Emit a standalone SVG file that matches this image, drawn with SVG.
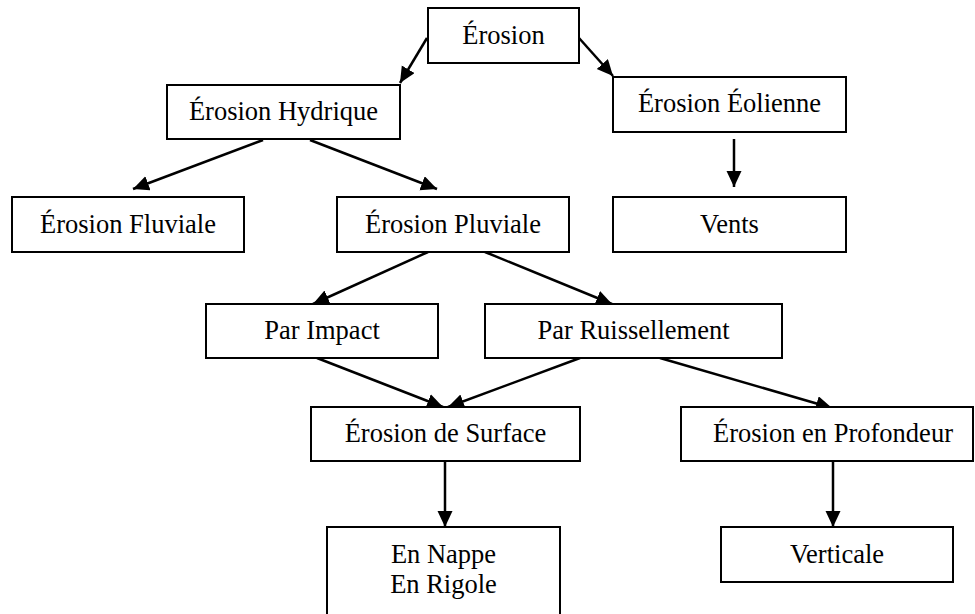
<svg xmlns="http://www.w3.org/2000/svg" width="975" height="614" viewBox="0 0 975 614">
<style>
.box{fill:#fff;stroke:#000;stroke-width:2}
.lbl{font-family:"Liberation Serif","Times New Roman",serif;font-size:26.5px;fill:#000;text-anchor:middle}
.edge{stroke:#000;stroke-width:2.5;fill:none;marker-end:url(#ah)}
</style>
<defs>
<marker id="ah" markerUnits="userSpaceOnUse" markerWidth="18" markerHeight="16" refX="16" refY="7.5" orient="auto">
<path d="M0,0 L16,7.5 L0,15 z" fill="#000"/>
</marker>
</defs>
<rect width="975" height="614" fill="#fff"/>
<g id="connectors">
<line class="edge" x1="427" y1="38" x2="400" y2="83"/>
<line class="edge" x1="579" y1="38" x2="613" y2="76"/>
<line class="edge" x1="263" y1="140" x2="133" y2="189"/>
<line class="edge" x1="310" y1="140" x2="437" y2="189"/>
<line class="edge" x1="734" y1="139" x2="734" y2="187"/>
<line class="edge" x1="428" y1="252" x2="313" y2="304"/>
<line class="edge" x1="485" y1="252" x2="612" y2="304"/>
<line class="edge" x1="317" y1="358" x2="443" y2="407"/>
<line class="edge" x1="580" y1="358" x2="448" y2="407"/>
<line class="edge" x1="660" y1="358" x2="832" y2="408"/>
<line class="edge" x1="445" y1="461" x2="445" y2="527"/>
<line class="edge" x1="833" y1="461" x2="833" y2="527"/>
</g>
<g id="erosion"><rect class="box" x="428" y="8" width="151" height="55"/><text class="lbl" x="503.5" y="44">Érosion</text></g>
<g id="hydrique"><rect class="box" x="167" y="85" width="233" height="54"/><text class="lbl" x="283.5" y="120">Érosion Hydrique</text></g>
<g id="eolienne"><rect class="box" x="613" y="77" width="233" height="55"/><text class="lbl" x="729.5" y="112">Érosion Éolienne</text></g>
<g id="fluviale"><rect class="box" x="12" y="197" width="232" height="55"/><text class="lbl" x="128" y="233">Érosion Fluviale</text></g>
<g id="pluviale"><rect class="box" x="337" y="197" width="232" height="55"/><text class="lbl" x="453" y="233">Érosion Pluviale</text></g>
<g id="vents"><rect class="box" x="613" y="197" width="233" height="55"/><text class="lbl" x="729.5" y="233">Vents</text></g>
<g id="impact"><rect class="box" x="206" y="304" width="232" height="54"/><text class="lbl" x="322" y="339">Par Impact</text></g>
<g id="ruissellement"><rect class="box" x="485" y="304" width="297" height="54"/><text class="lbl" x="633.5" y="339">Par Ruissellement</text></g>
<g id="surface"><rect class="box" x="311" y="407" width="269" height="54"/><text class="lbl" x="445.5" y="442">Érosion de Surface</text></g>
<g id="profondeur"><rect class="box" x="681" y="407" width="292" height="54"/><text class="lbl" x="833" y="442">Érosion en Profondeur</text></g>
<g id="nappe"><rect class="box" x="327" y="527" width="233" height="100"/><text class="lbl" x="443.5" y="563">En Nappe</text><text class="lbl" x="443.5" y="593">En Rigole</text></g>
<g id="verticale"><rect class="box" x="721" y="527" width="232" height="55"/><text class="lbl" x="837" y="563">Verticale</text></g>
</svg>
